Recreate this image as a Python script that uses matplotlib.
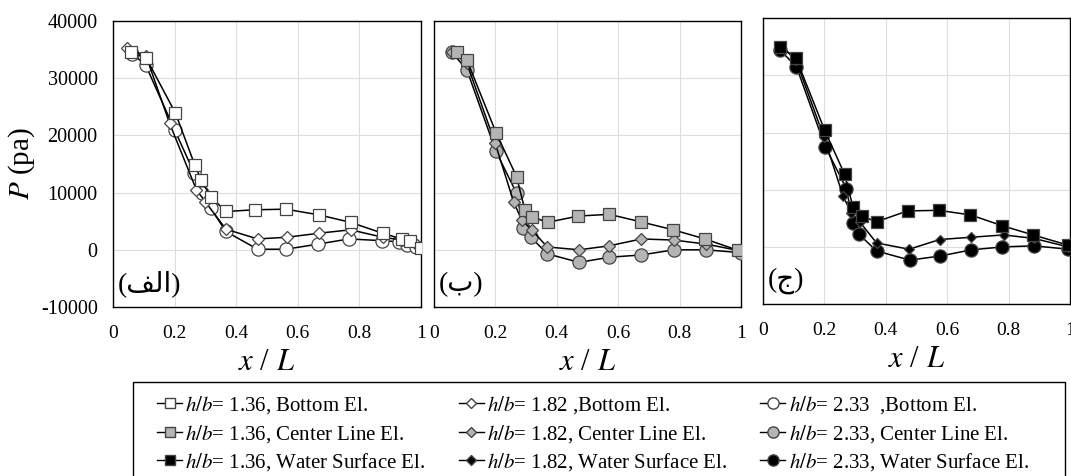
import numpy as np
import matplotlib
matplotlib.use('Agg')
import matplotlib.pyplot as plt
from matplotlib.lines import Line2D
from matplotlib.patches import Rectangle

plt.rcParams['font.family'] = ['Liberation Serif', 'DejaVu Sans']
plt.rcParams['mathtext.fontset'] = 'stix'
plt.rcParams['axes.unicode_minus'] = False

# panel (a) - bottom elevation
xa_sq = [0.06, 0.108, 0.203, 0.266, 0.287, 0.317, 0.367, 0.463, 0.562, 0.670, 0.772, 0.876, 0.938, 0.965, 1.0]
pa_sq = [34500, 33500, 23900, 14800, 12200, 9300, 6700, 7000, 7100, 6100, 4800, 2900, 1900, 1500, 300]
xa_di = [0.047, 0.108, 0.184, 0.271, 0.30, 0.367, 0.47, 0.566, 0.67, 0.772, 0.876, 0.94, 0.987]
pa_di = [35200, 33800, 22100, 10500, 8400, 3600, 1900, 2200, 2900, 3500, 2200, 1700, 900]
xa_ci = [0.062, 0.106, 0.2, 0.264, 0.29, 0.317, 0.367, 0.47, 0.562, 0.667, 0.767, 0.873, 0.93, 0.957, 0.985]
pa_ci = [34300, 32300, 21000, 13400, 10000, 7300, 3200, 100, 100, 1000, 1900, 1600, 1400, 900, 500]

# panel (b) - center line elevation
xb_sq = [0.074, 0.107, 0.202, 0.269, 0.296, 0.318, 0.37, 0.47, 0.571, 0.673, 0.779, 0.883, 0.991]
pb_sq = [34500, 33200, 20500, 12800, 7000, 5800, 4800, 5900, 6200, 4900, 3500, 1900, -100]
xb_di = [0.058, 0.107, 0.199, 0.26, 0.286, 0.318, 0.369, 0.473, 0.571, 0.676, 0.782, 0.886, 0.99]
pb_di = [34500, 32600, 18700, 8300, 5200, 3500, 500, 0, 700, 1900, 1700, 1000, -100]
xb_ci = [0.058, 0.107, 0.202, 0.269, 0.291, 0.316, 0.369, 0.473, 0.571, 0.676, 0.782, 0.886, 0.999]
pb_ci = [34500, 31500, 17200, 9900, 3800, 2200, -700, -2200, -1300, -900, 0, 0, -500]

# panel (c) - water surface elevation
xc_sq = [0.054, 0.107, 0.201, 0.266, 0.293, 0.321, 0.37, 0.471, 0.573, 0.676, 0.78, 0.88, 0.995]
pc_sq = [35000, 33100, 20400, 12700, 7000, 5400, 4400, 6300, 6400, 5600, 3700, 2100, 300]
xc_di = [0.06, 0.107, 0.198, 0.261, 0.288, 0.315, 0.37, 0.476, 0.576, 0.679, 0.784, 0.882, 0.995]
pc_di = [35100, 32700, 19300, 8900, 5900, 4400, 700, -400, 1300, 1700, 2100, 1500, 0]
xc_ci = [0.054, 0.109, 0.203, 0.272, 0.293, 0.313, 0.37, 0.478, 0.576, 0.679, 0.78, 0.882, 0.995]
pc_ci = [34500, 31500, 17500, 10200, 4200, 2200, -700, -2300, -1600, -500, 0, 200, -400]

ratios = ['1.36', '1.82', '2.33']
levels = ['Bottom El.', 'Center Line El.', 'Water Surface El.']
panel_tags = ['(\ufed2\ufedf\ufe8d)', '(\ufe8f)', '(\ufe9d)']

panels = [
    [(xa_sq, pa_sq), (xa_di, pa_di), (xa_ci, pa_ci)],
    [(xb_sq, pb_sq), (xb_di, pb_di), (xb_ci, pb_ci)],
    [(xc_sq, pc_sq), (xc_di, pc_di), (xc_ci, pc_ci)],
]
faces = ['white', '#b4b4b4', 'black']
markers = ['s', 'D', 'o']
msizes = [[8.5, 6.5, 9.5], [8.5, 6.5, 9.5], [8.5, 5.5, 9.5]]

fig = plt.figure(figsize=(10.71, 4.76), dpi=100)
rects = [[0.1055, 0.355, 0.2873, 0.601],
         [0.4052, 0.355, 0.2866, 0.601],
         [0.7124, 0.361, 0.2866, 0.601]]

for i, rect in enumerate(rects):
    ax = fig.add_axes(rect)
    for j, (xs, ps) in enumerate(panels[i]):
        ax.plot(xs, ps, color='black', lw=1.1, marker=markers[j], ms=msizes[i][j],
                mfc=faces[i], mec='#444444', mew=0.9, zorder=3 + (2 - j))
    ax.set_xlim(0, 1)
    ax.set_ylim(-10000, 40000)
    ax.set_xticks([0, 0.2, 0.4, 0.6, 0.8, 1])
    ax.set_xticklabels(['0', '0.2', '0.4', '0.6', '0.8', '1'])
    ax.set_yticks(np.arange(-10000, 40001, 10000))
    ax.grid(True, color='#dddddd', lw=0.8)
    ax.set_axisbelow(True)
    ax.tick_params(axis='x', length=0, labelsize=14, pad=13)
    ax.tick_params(axis='y', length=0, labelsize=14.5, pad=11)
    for s in ax.spines.values():
        s.set_linewidth(1.0)
    if i == 0:
        ax.set_ylabel('$P$ (pa)', fontsize=21, labelpad=3)
    else:
        ax.set_yticklabels([])
    ax.set_xlabel('$x$ / $L$', fontsize=22, labelpad=4)
    ax.text(0.015, 0.035, panel_tags[i], transform=ax.transAxes, fontsize=20,
            family=['Liberation Serif', 'DejaVu Sans'], va='bottom', ha='left')

handles = []
labels = []
for j, r in enumerate(ratios):
    for i, lev in enumerate(levels):
        handles.append(Line2D([], [], color='black', lw=1.0, marker=markers[j],
                              ms=msizes[i][j] * 0.85, mfc=faces[i], mec='#444444'))
        sep = ', ' if j == 0 or i > 0 else (' ,' if j == 1 else '  ,')
        labels.append('$h/b$= ' + r + sep + lev)

leg = fig.legend(handles, labels, ncol=3, loc='upper left',
                 bbox_to_anchor=(0.1466, 0.172), frameon=False, fontsize=15,
                 handlelength=1.2, handletextpad=0.15, labelspacing=0.32,
                 borderpad=0, borderaxespad=0, columnspacing=1.6)

fig.add_artist(Rectangle((0.124, -0.05), 0.870, 0.2475, transform=fig.transFigure,
                         fill=False, edgecolor='black', lw=1.0))

fig.savefig('out.png', dpi=100)
